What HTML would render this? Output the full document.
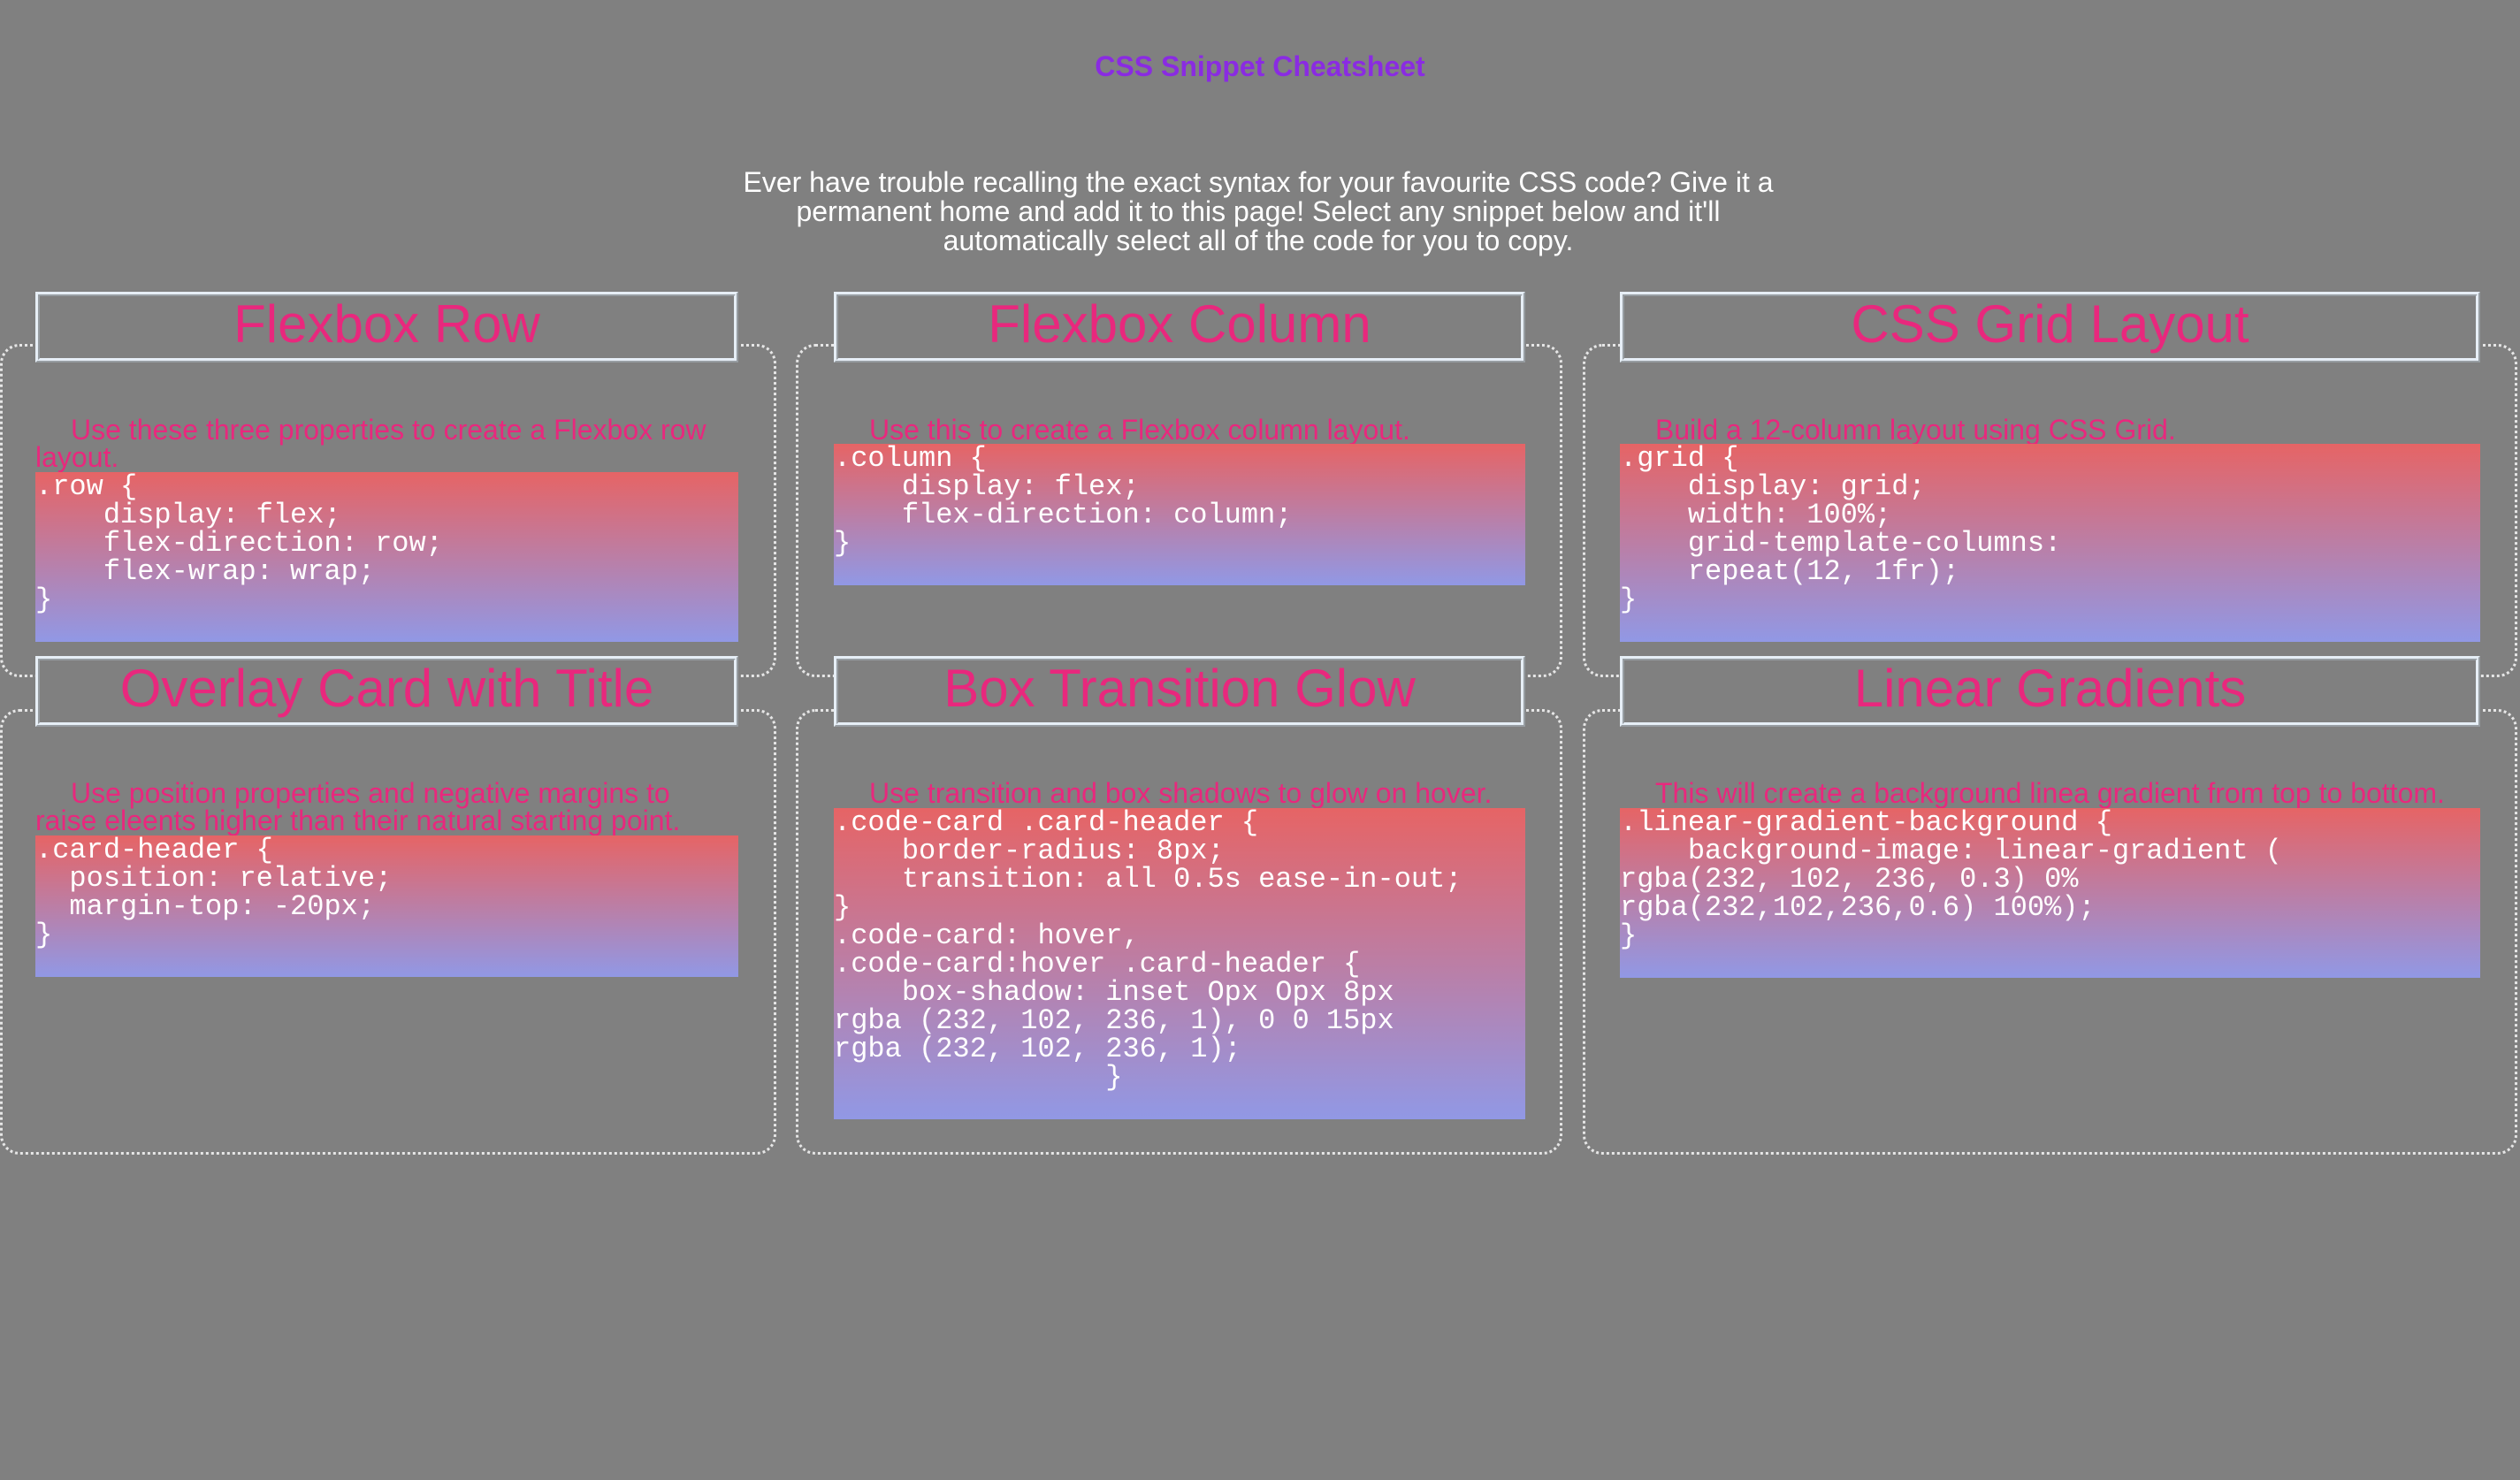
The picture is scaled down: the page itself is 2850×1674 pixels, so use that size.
<!DOCTYPE html>
<html><head><meta charset="utf-8"><style>
body{margin:0;width:2850px;height:1674px;background:#808080;position:relative;overflow:hidden;font-family:"Liberation Sans",Arial,sans-serif}
.t{position:absolute;left:0;width:2850px;text-align:center;top:57px;font-size:32px;font-weight:bold;color:#8a2be2;line-height:36px}
.intro{position:absolute;left:813px;width:1220px;top:190px;text-align:center;color:#fff;font-size:32px;line-height:33px}
.cont{position:absolute;border:3px dotted #e6e6e6;border-radius:22px;box-sizing:border-box}
.hd{position:absolute;box-sizing:border-box;background:#808080;border:5px ridge #e6eef6;color:#e8287d;font-size:60px;text-align:center;line-height:64px;height:80px}
.d{position:absolute;color:#e8287d;font-size:32px;line-height:31px;white-space:nowrap}
.d .i{padding-left:40px}
pre{position:absolute;margin:0;background:linear-gradient(#e66465,#9198e5);color:#fff;font-family:"Liberation Mono","Courier New",monospace;font-size:32px;line-height:32px;padding:1px 0 0 0;box-sizing:border-box}
</style></head><body>
<div class="t">CSS Snippet Cheatsheet</div>
<div class="intro">Ever have trouble recalling the exact syntax for your favourite CSS code? Give it a permanent home and add it to this page! Select any snippet below and it'll automatically select all of the code for you to copy.</div>

<div class="cont" style="left:0;top:389px;width:878px;height:377px"></div>
<div class="cont" style="left:900px;top:389px;width:867px;height:377px"></div>
<div class="cont" style="left:1790px;top:389px;width:1057px;height:377px"></div>
<div class="cont" style="left:0;top:802px;width:878px;height:504px"></div>
<div class="cont" style="left:900px;top:802px;width:867px;height:504px"></div>
<div class="cont" style="left:1790px;top:802px;width:1057px;height:504px"></div>

<div class="hd" style="left:40px;top:330px;width:795px">Flexbox Row</div>
<div class="hd" style="left:943px;top:330px;width:782px">Flexbox Column</div>
<div class="hd" style="left:1832px;top:330px;width:973px">CSS Grid Layout</div>
<div class="hd" style="left:40px;top:742px;width:795px">Overlay Card with Title</div>
<div class="hd" style="left:943px;top:742px;width:782px">Box Transition Glow</div>
<div class="hd" style="left:1832px;top:742px;width:973px">Linear Gradients</div>

<div class="d" style="left:40px;top:471px"><span class="i">Use these three properties to create a Flexbox row</span><br>layout.</div>
<pre style="left:40px;top:534px;width:795px;height:192px">.row {
    display: flex;
    flex-direction: row;
    flex-wrap: wrap;
}</pre>

<div class="d" style="left:943px;top:471px"><span class="i">Use this to create a Flexbox column layout.</span></div>
<pre style="left:943px;top:502px;width:782px;height:160px">.column {
    display: flex;
    flex-direction: column;
}</pre>

<div class="d" style="left:1832px;top:471px"><span class="i">Build a 12-column layout using CSS Grid.</span></div>
<pre style="left:1832px;top:502px;width:973px;height:224px">.grid {
    display: grid;
    width: 100%;
    grid-template-columns:
    repeat(12, 1fr);
}</pre>

<div class="d" style="left:40px;top:882px"><span class="i">Use position properties and negative margins to</span><br>raise eleents higher than their natural starting point.</div>
<pre style="left:40px;top:945px;width:795px;height:160px">.card-header {
  position: relative;
  margin-top: -20px;
}</pre>

<div class="d" style="left:943px;top:882px"><span class="i">Use transition and box shadows to glow on hover.</span></div>
<pre style="left:943px;top:914px;width:782px;height:352px">.code-card .card-header {
    border-radius: 8px;
    transition: all 0.5s ease-in-out;
}
.code-card: hover,
.code-card:hover .card-header {
    box-shadow: inset Opx Opx 8px
rgba (232, 102, 236, 1), 0 0 15px
rgba (232, 102, 236, 1);
                }</pre>

<div class="d" style="left:1832px;top:882px"><span class="i">This will create a background linea gradient from top to bottom.</span></div>
<pre style="left:1832px;top:914px;width:973px;height:192px">.linear-gradient-background {
    background-image: linear-gradient (
rgba(232, 102, 236, 0.3) 0%
rgba(232,102,236,0.6) 100%);
}</pre>
</body></html>
